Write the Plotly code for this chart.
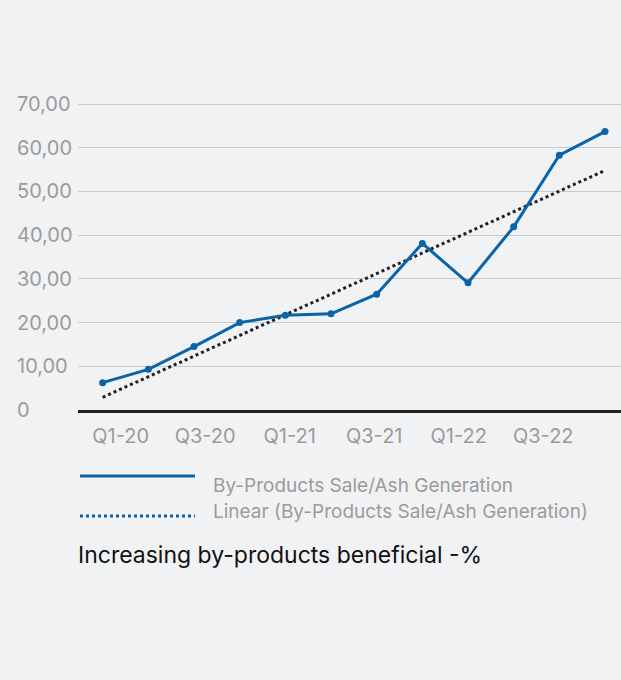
import plotly.graph_objects as go

# ---- data ----
quarters = ["Q1-20", "Q2-20", "Q3-20", "Q4-20", "Q1-21", "Q2-21",
            "Q3-21", "Q4-21", "Q1-22", "Q2-22", "Q3-22", "Q4-22"]
ratio = [6.25, 9.3, 14.5, 20.0, 21.7, 22.0, 26.5, 38.1, 29.1, 41.9, 58.3, 63.7]
trend_ends = [2.9, 54.8]            # linear trend at first and last quarter
tick_labels = ["Q1-20", "Q3-20", "Q1-21", "Q3-21", "Q1-22", "Q3-22"]
y_ticks = [0, 10, 20, 30, 40, 50, 60, 70]
series_name = "By-Products Sale/Ash Generation"
trend_name = "Linear (By-Products Sale/Ash Generation)"
title_text = "Increasing by-products beneficial -%"

BG = "#f1f2f4"
BLUE = "#0b63a8"
GRAY = "#9b9b9b"
FONT = "Inter, Roboto, sans-serif"

W, H = 621, 680
ML, MR, MT, MB = 78, 0, 95, 270
plot_w = W - ML - MR
plot_h = H - MT - MB

fig = go.Figure()

xi = list(range(len(quarters)))
fig.add_trace(go.Scatter(
    x=[xi[0], xi[-1]], y=trend_ends, mode="lines",
    line=dict(color="#231f20", width=3, dash="dot"),
    showlegend=False, hoverinfo="skip"))
fig.add_trace(go.Scatter(
    x=xi, y=ratio, mode="lines+markers", name=series_name,
    line=dict(color=BLUE, width=3), marker=dict(color=BLUE, size=7),
    text=quarters, showlegend=False))
# tick-label carrier on a second (evenly spaced) category axis
fig.add_trace(go.Scatter(
    x=tick_labels, y=[None] * len(tick_labels), xaxis="x2",
    mode="markers", showlegend=False, hoverinfo="skip"))

# y tick labels, left aligned
annotations = []
for v in y_ticks:
    annotations.append(dict(
        x=(15 - ML) / plot_w, xref="paper", xanchor="left",
        y=v, yref="y", yanchor="middle",
        text=("0" if v == 0 else f"{v},00"), showarrow=False,
        font=dict(family=FONT, size=20, color=GRAY)))

def py(pix):  # paper y from pixel y
    return (H - MB - pix) / plot_h

def px(pix):
    return (pix - ML) / plot_w

# legend
shapes = [
    dict(type="line", xref="paper", yref="paper",
         x0=px(80), x1=px(195), y0=py(476), y1=py(476),
         line=dict(color=BLUE, width=3)),
    dict(type="line", xref="paper", yref="paper",
         x0=px(80), x1=px(195), y0=py(516), y1=py(516),
         line=dict(color=BLUE, width=3, dash="dot")),
]
annotations += [
    dict(x=px(211), y=py(485), xref="paper", yref="paper", xanchor="left",
         yanchor="middle", text=series_name, showarrow=False,
         font=dict(family=FONT, size=19, color=GRAY)),
    dict(x=px(211), y=py(511), xref="paper", yref="paper", xanchor="left",
         yanchor="middle", text=trend_name, showarrow=False,
         font=dict(family=FONT, size=19, color=GRAY)),
    dict(x=px(76), y=py(555), xref="paper", yref="paper", xanchor="left",
         yanchor="middle", text=title_text, showarrow=False,
         font=dict(family=FONT, size=23, color="#111111")),
]

fig.update_layout(
    width=W, height=H,
    margin=dict(l=ML, r=MR, t=MT, b=MB),
    paper_bgcolor=BG, plot_bgcolor=BG,
    showlegend=False,
    xaxis=dict(range=[-0.54, 11.35], showticklabels=False, showgrid=False,
               zeroline=False, showline=False, fixedrange=True),
    xaxis2=dict(overlaying="x", anchor="y", side="bottom", type="category",
                range=[-0.505, 5.92], showgrid=False, zeroline=False,
                showline=True, linecolor="#231f20", linewidth=3,
                ticks="", tickfont=dict(family=FONT, size=20, color=GRAY),
                ticklabelstandoff=6),
    yaxis=dict(range=[0, plot_h / 4.371], tickvals=y_ticks[1:],
               showticklabels=False, showgrid=True, gridcolor="#c9cacc",
               gridwidth=1, zeroline=False, showline=False, ticks=""),
    shapes=shapes,
    annotations=annotations,
)

fig.write_html("out.html")
